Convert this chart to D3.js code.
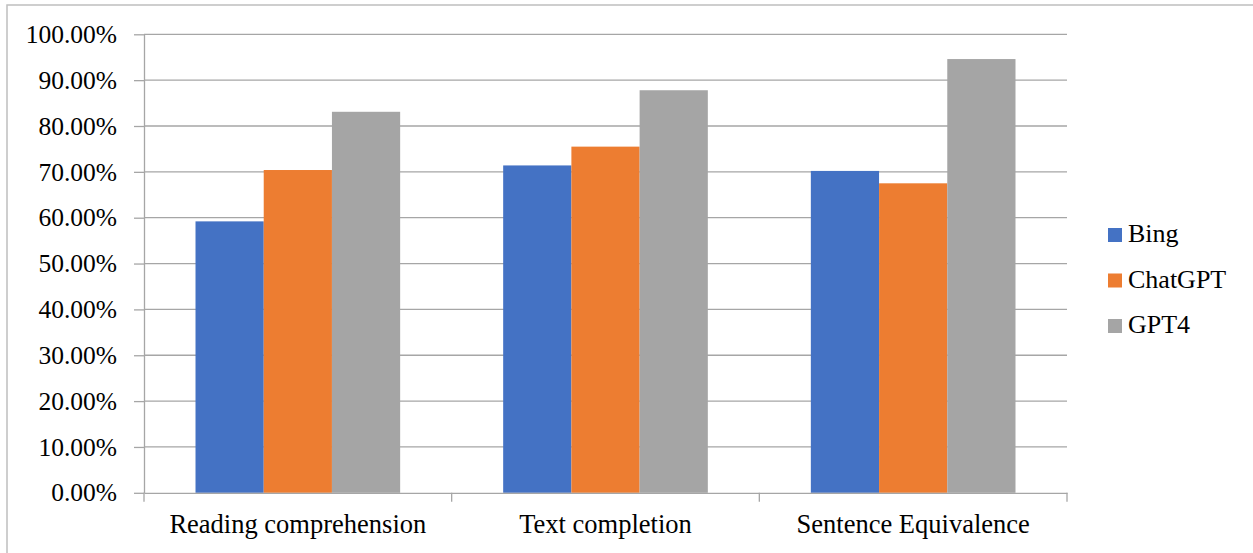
<!DOCTYPE html>
<html><head><meta charset="utf-8">
<script src="https://cdn.jsdelivr.net/npm/d3@7"></script>
<style>
html,body{margin:0;padding:0;background:#fff;}
</style></head>
<body><svg id="c" width="1253" height="553"></svg>
<script>
const categories = ["Reading comprehension", "Text completion", "Sentence Equivalence"];
const seriesNames = ["Bing", "ChatGPT", "GPT4"];
const bing = [0.592, 0.714, 0.702];
const chatgpt = [0.704, 0.755, 0.675];
const gpt4 = [0.831, 0.878, 0.946];
const yTicks = [0,0.1,0.2,0.3,0.4,0.5,0.6,0.7,0.8,0.9,1.0];
const colors = ["#4472c4", "#ed7d31", "#a5a5a5"];
const series = [bing, chatgpt, gpt4];

const svg = d3.select("#c").style("font-family",'"Liberation Serif"');
const L = 144, R = 1067, T = 34.3, B = 492.8;
const FF = '"Liberation Serif"';

svg.append("rect").attr("x",7).attr("y",5).attr("width",1260).attr("height",560)
  .attr("fill","none").attr("stroke","#bfbfbf").attr("stroke-width",1.5);

const y = d3.scaleLinear().domain([0,1]).range([B,T]);
const x0 = d3.scaleBand().domain(categories).range([L,R]).paddingInner(0).paddingOuter(0);
const x1 = d3.scaleBand().domain(seriesNames).range([0,x0.bandwidth()]).paddingOuter(0.755).paddingInner(0);

svg.append("g").selectAll("line").data(yTicks.filter(d=>d>0)).join("line")
  .attr("x1",L).attr("x2",R).attr("y1",d=>y(d)).attr("y2",d=>y(d))
  .attr("stroke","#a6a6a6").attr("stroke-width",1.3);

categories.forEach((c,ci)=>{
  series.forEach((s,si)=>{
    svg.append("rect")
      .attr("x",x0(c)+x1(seriesNames[si]))
      .attr("width",x1.bandwidth())
      .attr("y",y(s[ci]))
      .attr("height",B-y(s[ci]))
      .attr("fill",colors[si]);
  });
});

const yAxis = d3.axisLeft(y).tickValues(yTicks).tickSize(10).tickSizeOuter(0)
  .tickFormat(d=>(d*100).toFixed(2)+"%").tickPadding(17);
const gy = svg.append("g").attr("transform",`translate(${L},0)`).call(yAxis);
gy.attr("font-family",null).attr("font-size",null).style("font-family",FF);
gy.select(".domain").attr("stroke","#a6a6a6").attr("stroke-width",1.3);
gy.selectAll(".tick line").attr("stroke","#a6a6a6").attr("stroke-width",1.3);
gy.selectAll(".tick text").attr("font-size",25.5).style("font-family",FF).attr("fill","#000");

const xAxis = d3.axisBottom(x0).tickSize(0).tickPadding(40);
const gx = svg.append("g").attr("transform",`translate(0,${B})`).call(xAxis);
gx.attr("font-family",null).attr("font-size",null).style("font-family",FF);
gx.select(".domain").attr("stroke","#a6a6a6").attr("stroke-width",1.3);
gx.selectAll(".tick text").attr("dy",0).attr("font-size",26.5).style("font-family",FF).attr("fill","#000");
const bounds = categories.map(c=>x0(c)).concat([R]);
gx.selectAll(".bt").data(bounds).join("line").attr("class","bt")
  .attr("x1",d=>d).attr("x2",d=>d).attr("y1",0).attr("y2",9)
  .attr("stroke","#a6a6a6").attr("stroke-width",1.3);

const lg = svg.append("g").attr("transform","translate(1108,242)");
seriesNames.forEach((n,i)=>{
  const g = lg.append("g").attr("transform",`translate(0,${i*45.5})`);
  g.append("rect").attr("x",0).attr("y",-14).attr("width",14).attr("height",14).attr("fill",colors[i]);
  g.append("text").attr("x",20).attr("y",0).attr("font-size",26).style("font-family",FF).attr("fill","#000").text(n);
});
</script></body></html>
